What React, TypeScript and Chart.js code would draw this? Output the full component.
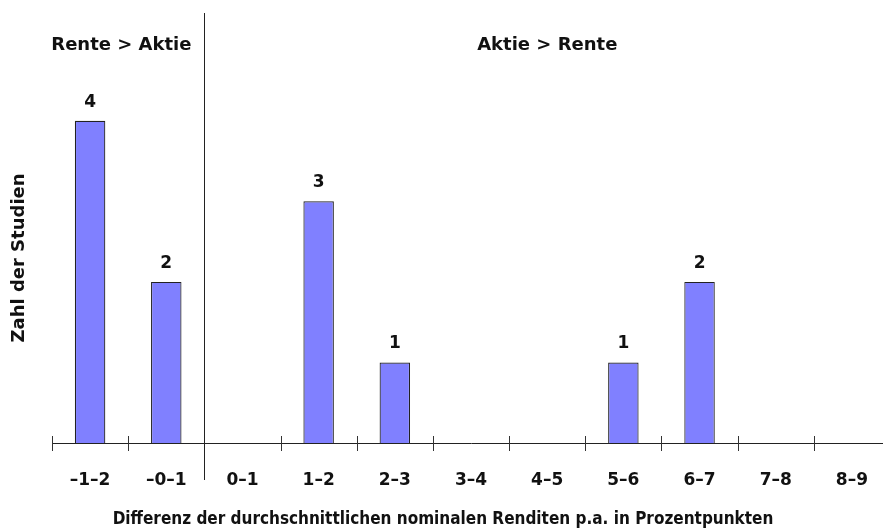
import React, { useEffect, useRef } from "react";
import { Chart, registerables } from "chart.js";

Chart.register(...registerables);

const categories = ["–1–2", "–0–1", "0–1", "1–2", "2–3", "3–4", "4–5", "5–6", "6–7", "7–8", "8–9"];
const studies = [4, 2, 0, 3, 1, 0, 0, 1, 2, 0, 0];
const regionLeft = "Rente > Aktie";
const regionRight = "Aktie > Rente";
const xTitle = "Differenz der durchschnittlichen nominalen Renditen p.a. in Prozentpunkten";
const yTitle = "Zahl der Studien";

const FONT = "'DejaVu Sans', sans-serif";
const FONT_C = "'DejaVu Sans Condensed', 'DejaVu Sans', sans-serif";
const TXT = "#111111";

const overlay = {
  id: "overlay",
  afterDraw(chart: any) {
    const ctx = chart.ctx;
    const xs = chart.scales.x;
    const area = chart.chartArea;
    const step = xs.getPixelForValue(1) - xs.getPixelForValue(0);
    const boundary = (i: number) => xs.getPixelForValue(i) - step / 2;
    ctx.save();
    // ticks
    ctx.strokeStyle = "#333";
    ctx.lineWidth = 1;
    for (let i = 0; i <= categories.length; i++) {
      const x = Math.round(boundary(i)) + 0.5;
      ctx.beginPath();
      ctx.moveTo(x, area.bottom - 7);
      ctx.lineTo(x, area.bottom + 8);
      ctx.stroke();
    }
    // separator
    const sx = Math.round(boundary(2)) + 0.5;
    ctx.strokeStyle = "#222";
    ctx.beginPath();
    ctx.moveTo(sx, 13);
    ctx.lineTo(sx, 480);
    ctx.stroke();
    // region labels
    ctx.fillStyle = TXT;
    ctx.font = `bold 18px ${FONT}`;
    ctx.textBaseline = "alphabetic";
    ctx.textAlign = "right";
    ctx.fillText(regionLeft, sx - 13, 50);
    ctx.textAlign = "center";
    ctx.fillText(regionRight, (sx + Math.min(area.right, chart.width)) / 2, 50);
    // value labels
    const meta = chart.getDatasetMeta(0);
    ctx.font = `bold 17px ${FONT}`;
    meta.data.forEach((bar: any, i: number) => {
      if (studies[i] > 0) ctx.fillText(String(studies[i]), bar.x, bar.y - 14);
    });
    // x title
    ctx.font = `bold 17px ${FONT_C}`;
    ctx.fillText(xTitle, 443, 524);
    // y title
    ctx.font = `bold 18px ${FONT}`;
    ctx.translate(24, 258);
    ctx.rotate(-Math.PI / 2);
    ctx.fillText(yTitle, 0, 0);
    ctx.restore();
  },
};

export default function App() {
  const ref = useRef<HTMLCanvasElement | null>(null);
  useEffect(() => {
    document.documentElement.style.overflow = "hidden";
    const chart = new Chart(ref.current as HTMLCanvasElement, {
      type: "bar",
      data: {
        labels: categories,
        datasets: [
          {
            data: studies,
            backgroundColor: "#8080ff",
            borderColor: "#222222",
            borderWidth: 1.2,
            barPercentage: 0.4,
            categoryPercentage: 1.0,
          },
        ],
      },
      options: {
        animation: false,
        responsive: true,
        maintainAspectRatio: false,
        layout: { padding: { left: 52, right: 0, top: 0, bottom: 0 } },
        plugins: { legend: { display: false }, tooltip: { enabled: false } },
        scales: {
          x: {
            grid: { display: false },
            border: { display: true, color: "#222222", width: 1 },
            ticks: {
              color: TXT,
              font: { family: FONT, size: 17, weight: "bold" },
              padding: 19,
              maxRotation: 0,
              autoSkip: false,
            },
            afterFit(scale: any) {
              scale.height = 85;
            },
          },
          y: { display: false, min: 0, max: 5.5 },
        },
      },
      plugins: [overlay],
    });
    return () => chart.destroy();
  }, []);
  return (
    <div style={{ position: "fixed", left: 0, top: 0, width: 890, height: 528 }}>
      <canvas ref={ref} />
    </div>
  );
}
